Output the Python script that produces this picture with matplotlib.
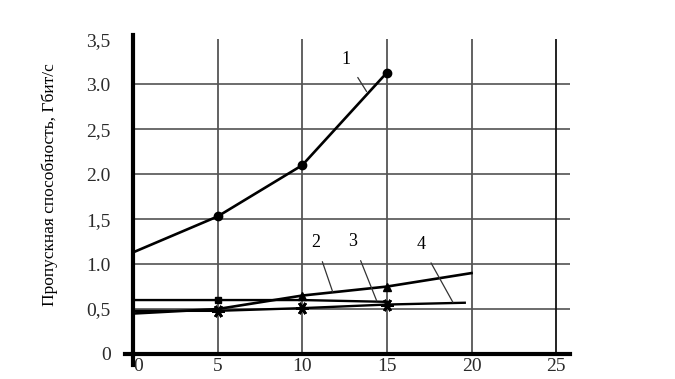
import matplotlib.pyplot as plt
import numpy as np

plt.rcParams['font.family'] = ['Liberation Serif', 'DejaVu Serif']

# curve 1 (circles)
x1 = [0, 5, 10, 15]
y1 = [1.13, 1.53, 2.1, 3.13]
# curve 2 (triangles)
x2 = [0, 5, 10, 15, 20]
y2 = [0.45, 0.5, 0.65, 0.75, 0.9]
# curve 3 (squares)
x3 = [0, 5, 10, 15]
y3 = [0.6, 0.6, 0.6, 0.58]
# curve 4 (stars)
x4 = [0, 5, 10, 15, 19.6]
y4 = [0.48, 0.48, 0.51, 0.55, 0.57]

xticks = [0, 5, 10, 15, 20, 25]
yticks = [0, 0.5, 1.0, 1.5, 2.0, 2.5, 3.0, 3.5]
ytick_labels = ['0', '0,5', '1.0', '1,5', '2.0', '2,5', '3.0', '3,5']
hgrid = [0.5, 1.0, 1.5, 2.0, 2.5, 3.0]
vgrid = [5, 10, 15, 20, 25]

# curve labels: text, label position, pointer end
labels = ['1', '2', '3', '4']
label_pos = [(12.6, 3.28), (10.8, 1.24), (13.0, 1.25), (17.0, 1.22)]
pointer_end = [(13.8, 2.92), (11.8, 0.69), (14.4, 0.59), (18.9, 0.575)]

fig = plt.figure(figsize=(6.75, 3.79), dpi=100)
ax = fig.add_axes([0.197, 0.066, 0.647, 0.842])
ax.set_xlim(0, 25.8)
ax.set_ylim(0, 3.55)

# grid
ax.hlines(hgrid, 0, 25.8, colors='#444444', linewidth=1.1, zorder=1)
ax.vlines(vgrid[:-1], 0, 3.5, colors='#555555', linewidth=1.3, zorder=1)
ax.vlines(vgrid[-1:], 0, 3.5, colors='#111111', linewidth=1.3, zorder=1)

ax.plot(x1, y1, color='black', lw=1.9, zorder=3)
ax.plot(x1[1:], y1[1:], 'o', color='black', ms=6, zorder=4)
ax.plot(x2, y2, color='black', lw=1.9, zorder=3)
ax.plot(x2[2:4], y2[2:4], '^', color='black', ms=6, zorder=4)
ax.plot(x3, y3, color='black', lw=1.7, zorder=3)
ax.plot(x3[1:2], y3[1:2], 's', color='black', ms=4, zorder=4)
ax.plot(x4, y4, color='black', lw=1.7, zorder=3)
ax.plot(x4[1:4], y4[1:4], marker=(6, 2, 90), ls='none', color='black',
        ms=9, mew=2, zorder=4)

for t, p, e in zip(labels, label_pos, pointer_end):
    ax.annotate(t, xy=e, xytext=p, fontsize=13, ha='center', va='center',
                arrowprops=dict(arrowstyle='-', color='#333333', lw=0.9,
                                shrinkA=6, shrinkB=0))

for s in ['top', 'right']:
    ax.spines[s].set_visible(False)
ax.spines['left'].set_linewidth(3)
ax.spines['bottom'].set_linewidth(3)
# small cross at the origin
ax.plot([-0.5, 0], [0, 0], color='black', lw=3, clip_on=False)
ax.plot([0, 0], [0, -0.12], color='black', lw=3, clip_on=False)

ax.set_xticks(xticks)
ax.set_xticklabels([str(v) for v in xticks])
ax.set_yticks(yticks)
ax.set_yticklabels(ytick_labels)
ax.tick_params(length=0, labelsize=14, colors='#2a2a2a')
ax.tick_params(axis='y', pad=16)
ax.tick_params(axis='x', pad=3)
ax.get_xticklabels()[0].set_ha('left')

ax.set_ylabel('Пропускная способность, Гбит/с', fontsize=12.5)
ax.yaxis.set_label_coords(-0.172, 0.53)

fig.savefig('out.png', dpi=100)
